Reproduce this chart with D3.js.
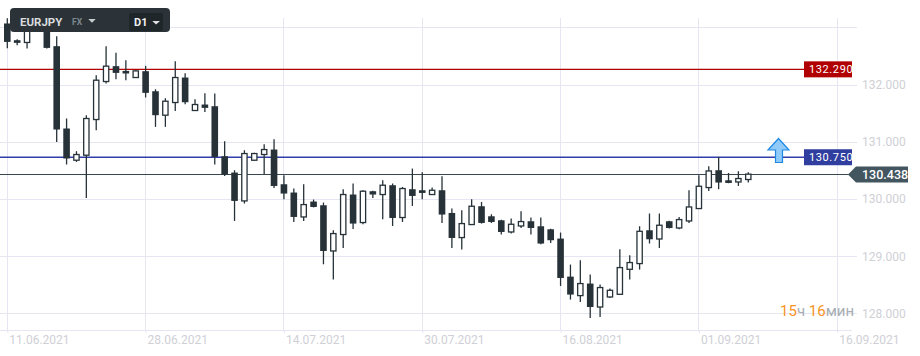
<!DOCTYPE html>
<html><head><meta charset="utf-8">
<script src="https://cdn.jsdelivr.net/npm/d3@7"></script>
<style>body{margin:0;background:#fff}svg{display:block;font-family:Roboto,"Noto Sans",sans-serif}</style>
</head><body><svg id="c" width="920" height="356"></svg>
<script>
const symbol = "EURJPY", market = "FX", timeframe = "D1";
const dateLabels = ["11.06.2021","28.06.2021","14.07.2021","30.07.2021","16.08.2021","01.09.2021","16.09.2021"];
const dateIndex = [0,14,28,42,56,70,84];
const priceTicks = [128,129,130,131,132];
const gridPrices = [128,129,130,131,132,133];
const levelValues = [132.290, 130.750];
const currentPrice = 130.438;
const timerParts = ["15","ч ","16","мин"];

const opens = [133.078,132.785,132.745,133.050,132.950,132.680,131.238,130.682,130.770,131.395,
132.061,132.330,132.247,132.131,132.242,131.891,131.471,131.693,132.131,131.553,
131.658,131.628,130.752,130.466,129.969,130.682,130.782,130.869,130.261,130.116,
129.688,129.958,129.893,129.092,129.380,130.081,129.590,130.139,130.081,130.244,
129.678,130.174,130.156,130.081,130.156,129.758,129.327,129.555,129.876,129.700,
129.630,129.425,129.530,129.613,129.525,129.472,129.309,128.643,128.310,128.521,
128.110,128.286,128.333,128.771,128.871,129.455,129.302,129.613,129.495,129.618,
129.835,130.203,130.507,130.331,130.301,130.344];
const highs = [133.171,132.800,133.136,133.300,133.050,132.855,131.413,130.840,131.471,132.172,
132.680,132.563,132.435,132.260,132.335,131.926,131.769,132.417,132.207,131.751,
131.856,131.851,131.015,130.507,130.857,130.813,130.962,131.050,130.419,130.186,
130.261,129.993,129.940,129.455,130.174,130.274,130.157,130.148,130.331,130.274,
130.214,130.536,130.472,130.203,130.401,129.835,129.805,129.998,129.951,129.735,
129.639,129.660,129.788,129.678,129.678,129.481,129.415,128.854,128.929,128.678,
128.503,128.433,129.122,129.017,129.525,129.748,129.748,129.622,129.688,130.156,
130.419,130.577,130.740,130.459,130.489,130.472];
const lows = [132.645,132.698,132.640,133.000,132.640,131.003,130.607,130.652,130.021,131.208,
132.026,132.102,132.084,132.125,131.781,131.266,131.266,131.546,131.663,131.545,
131.528,130.607,130.407,129.618,129.923,130.673,130.436,130.196,129.998,129.600,
129.618,129.855,128.859,128.591,129.145,129.478,129.560,130.021,129.648,129.530,
129.600,129.881,129.998,130.072,129.583,129.145,129.117,129.546,129.572,129.583,
129.380,129.397,129.495,129.380,129.210,129.232,128.479,128.240,128.198,127.918,
127.935,128.268,128.325,128.591,128.766,129.222,129.145,129.486,129.472,129.583,
129.826,130.144,130.174,130.279,130.231,130.291];
const closes = [132.755,132.738,133.018,133.200,132.650,131.220,130.712,130.782,131.413,132.084,
132.330,132.212,132.202,132.247,131.862,131.471,131.716,132.131,131.698,131.658,
131.599,130.740,130.431,129.969,130.799,130.799,130.869,130.231,130.098,129.688,
129.905,129.863,129.092,129.397,130.081,129.572,130.139,130.081,130.244,129.670,
130.186,130.056,130.109,130.156,129.730,129.320,129.572,129.876,129.583,129.600,
129.425,129.560,129.607,129.495,129.222,129.280,128.619,128.328,128.521,128.110,
128.451,128.403,128.801,128.889,129.437,129.297,129.543,129.495,129.642,129.863,
130.226,130.494,130.291,130.284,130.361,130.438];

const candles = opens.map((o,i)=>({i, o, h:highs[i], l:lows[i], c:closes[i]}));

const svg = d3.select("#c");
const x = d3.scaleLinear().domain([0,84]).range([7.3,837.2]);
const y = d3.scaleLinear().domain([128,132]).range([313.3,85.0]);
const gridColor = "#e6e6f2", candleColor = "#263238";
const crisp = v => Math.floor(v)+0.5;

// grid
svg.append("g").selectAll("line").data(gridPrices).join("line")
  .attr("x1",0).attr("x2",857).attr("y1",d=>crisp(y(d))).attr("y2",d=>crisp(y(d)))
  .attr("stroke",gridColor);
svg.append("g").selectAll("line").data(dateIndex).join("line")
  .attr("x1",d=>crisp(x(d))).attr("x2",d=>crisp(x(d))).attr("y1",18).attr("y2",330)
  .attr("stroke",gridColor);
svg.append("line").attr("x1",0).attr("x2",852).attr("y1",330.5).attr("y2",330.5).attr("stroke",gridColor);

// axes
const ya = svg.append("g").attr("transform","translate(857,0)")
  .call(d3.axisRight(y).tickValues(priceTicks).tickFormat(d3.format(".3f")).tickSize(0).tickPadding(5));
ya.select(".domain").remove();
ya.selectAll("text").attr("fill","#cfd0d6").attr("font-size",12).attr("font-family","Roboto");

const xa = svg.append("g").attr("transform","translate(0,330)")
  .call(d3.axisBottom(x).tickValues(dateIndex).tickFormat((d,i)=>dateLabels[i]).tickSize(3));
xa.select(".domain").remove();
xa.selectAll(".tick line").attr("stroke",gridColor);
xa.selectAll("text").attr("fill","#cfd0d6").attr("font-size",12).attr("font-family","Roboto")
  .attr("text-anchor","start").attr("x",1.5).attr("y",13.5).attr("dy",0);

// reference level lines
const levelColors = ["#b40000","#2f3ea8"];
const levelBoxColors = ["#b00000","#303f9f"];
levelValues.forEach((v,i)=>{
  const yy = y(v)+0.9;
  svg.append("line").attr("x1",0).attr("x2",804).attr("y1",yy).attr("y2",yy)
    .style("stroke",levelColors[i]).attr("stroke-width",1.4);
});
const cyl = crisp(y(currentPrice));
svg.append("line").attr("x1",0).attr("x2",850).attr("y1",cyl).attr("y2",cyl)
  .style("stroke","#37474f").attr("stroke-width",1.2);

// candles
svg.append("defs").append("clipPath").attr("id","clip").append("rect")
  .attr("x",0).attr("y",18).attr("width",857).attr("height",312);
const cg = svg.append("g").attr("clip-path","url(#clip)");
const bw = 6.6;
const cs = cg.selectAll("g").data(candles).join("g");
cs.append("line")
  .attr("x1",d=>x(d.i)).attr("x2",d=>x(d.i)).attr("y1",d=>y(d.h)).attr("y2",d=>y(d.l))
  .attr("stroke",candleColor).attr("stroke-width",1.3);
cs.append("rect")
  .attr("x",d=>d.c>=d.o ? x(d.i)-bw/2+0.65 : x(d.i)-bw/2)
  .attr("width",d=>d.c>=d.o ? bw-1.3 : bw)
  .attr("y",d=>y(Math.max(d.o,d.c)))
  .attr("height",d=>Math.max(1.5,Math.abs(y(d.o)-y(d.c))))
  .attr("fill",d=>d.c>=d.o ? "#fff" : candleColor)
  .attr("stroke",d=>d.c>=d.o ? candleColor : "none")
  .attr("stroke-width",1.3);

// level labels
levelValues.forEach((v,i)=>{
  const yy = y(v)+0.9;
  svg.append("rect").attr("x",804).attr("y",yy-8).attr("width",48).attr("height",16).attr("fill",levelBoxColors[i]);
  svg.append("text").attr("x",809).attr("y",yy+4).attr("fill","#fff").attr("font-size",11)
    .attr("letter-spacing","0.6px").text(d3.format(".3f")(v));
});

// current price tag
const cy = cyl;
svg.append("path")
  .attr("d",`M848,${cy} L856,${cy-8} L908,${cy-8} L908,${cy+8} L856,${cy+8} Z`)
  .attr("fill","#435660");
svg.append("text").attr("x",862).attr("y",cy+4.5).attr("fill","#fff").attr("font-size",12.5)
  .attr("font-weight",500).text(d3.format(".3f")(currentPrice));

// up arrow
svg.append("path")
  .attr("d","M778.5,138.5 L789,150 L782.5,150 L782.5,162.5 L775.5,162.5 L775.5,150 L768,150 Z")
  .attr("fill","#90caf9").attr("stroke","#1e88e5").attr("stroke-width",1.2);

// timer
const tt = svg.append("text").attr("x",780).attr("y",316).attr("font-size",15);
timerParts.forEach((t,i)=>tt.append("tspan").attr("fill",i%2===0?"#f7931e":"#a7adb3").text(t));

// header
const hg = svg.append("g");
hg.append("rect").attr("x",10).attr("y",8).attr("width",160).attr("height",24).attr("rx",4).attr("fill","#2b3338");
hg.append("text").attr("x",20).attr("y",25.5).attr("font-size",11.5).attr("font-weight",700).attr("fill","#d9dcde").text(symbol);
hg.append("text").attr("x",72).attr("y",25).attr("font-size",8.5).attr("font-weight",700).attr("fill","#7d878d").text(market);
hg.append("path").attr("d","M88.3,19 L95.7,19 L92,22.8 Z").attr("fill","#c8cdd0");
hg.append("rect").attr("x",129).attr("y",13).attr("width",34).attr("height",18).attr("rx",2).attr("fill","#1f2629");
hg.append("text").attr("x",134).attr("y",26).attr("font-size",11).attr("font-weight",700).attr("fill","#f0f0f0").text(timeframe);
hg.append("path").attr("d","M152.3,21 L160,21 L156.1,24.5 Z").attr("fill","#e0e0e0");
</script></body></html>
